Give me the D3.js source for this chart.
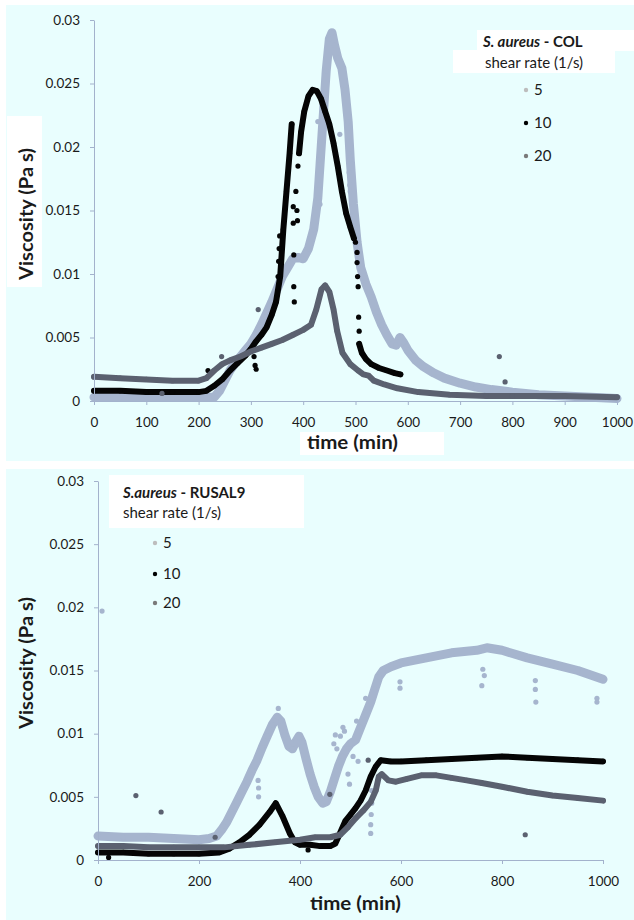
<!DOCTYPE html>
<html>
<head>
<meta charset="utf-8">
<title>S. aureus viscosity</title>
<script src="https://cdn.jsdelivr.net/npm/d3@7"></script>
<style>
    body { margin: 0; background: #fff; }
    svg text { font-family: Lato, 'Noto Sans', sans-serif; fill: #1a1a1a; }
    .axis path, .axis line { stroke: #a3b2cc; }
    .axis text { font-size: 13.5px; }
    .title { font-weight: 700; font-size: 18px; }
    .legend { font-size: 15px; }
</style>
</head>
<body>
<div id="chart"></div>
<script>
// ---- data (time in min, viscosity in Pa s) ----
var timeTicksTop = [0, 100, 200, 300, 400, 500, 600, 700, 800, 900, 1000];
var timeTicksBottom = [0, 200, 400, 600, 800, 1000];
var viscTicks = [0, 0.005, 0.01, 0.015, 0.02, 0.025, 0.03];
var viscTickLabels = ['0', '0.005', '0.01', '0.015', '0.02', '0.025', '0.03'];
var shearRates = ['5', '10', '20'];

// S. aureus - COL
var col5 = [[0,0.0003],[50,0.0003],[100,0.0003],[150,0.0003],[200,0.0003],[230,0.0003],[240,0.0008],[250,0.0016],
    [260,0.0024],[270,0.003],[280,0.0035],[290,0.004],[300,0.0045],[310,0.0052],[320,0.006],[330,0.0069],[340,0.0078],
    [350,0.0088],[360,0.0098],[370,0.0105],[380,0.0112],[390,0.0113],[400,0.0112],[410,0.012],[420,0.0135],[428,0.016],
    [436,0.021],[444,0.026],[450,0.0285],[455,0.029],[460,0.028],[466,0.027],[474,0.0262],[480,0.0245],[486,0.022],
    [490,0.019],[496,0.0155],[503,0.0125],[510,0.0105],[520,0.0092],[530,0.0082],[540,0.007],[550,0.006],[560,0.0052],
    [570,0.0045],[578,0.0044],[585,0.005],[592,0.0046],[600,0.004],[615,0.0032],[630,0.0027],[650,0.0022],[670,0.0018],
    [700,0.0014],[730,0.0011],[760,0.0009],[800,0.0007],[850,0.0005],[900,0.0004],[950,0.0003],[1000,0.0002]];
var col10 = [[0,0.0008],[50,0.0008],[100,0.0007],[150,0.0007],[200,0.0007],[215,0.0008],[230,0.0012],[245,0.0017],
    [260,0.0024],[275,0.003],[290,0.0036],[300,0.0041],[310,0.0047],[320,0.0052],[330,0.0058],[340,0.0068],[348,0.0078],
    [356,0.0098],[362,0.0135],[368,0.0165],[374,0.0195],[378,0.0218], null,
    [392,0.0195],[396,0.0212],[402,0.0228],[410,0.024],[418,0.0245],[426,0.0244],[434,0.0238],[442,0.0228],[450,0.0218],
    [458,0.0203],[466,0.0185],[474,0.0165],[482,0.0148],[490,0.0137],[497,0.0128], null,
    [507,0.0045],[512,0.0038],[520,0.0033],[530,0.0029],[545,0.0026],[560,0.0024],[575,0.0022],[586,0.0021]];
var col20 = [[0,0.0019],[50,0.0018],[100,0.0017],[150,0.0016],[200,0.0016],[215,0.0018],[230,0.0024],[245,0.0029],
    [260,0.0032],[280,0.0035],[300,0.0039],[320,0.0042],[340,0.0045],[360,0.0048],[380,0.0052],[400,0.0056],[415,0.006],
    [425,0.0072],[435,0.0088],[442,0.0091],[450,0.0086],[458,0.0072],[465,0.0055],[475,0.0038],[490,0.0029],[505,0.0024],
    [515,0.0021],[525,0.002],[535,0.0016],[555,0.0013],[580,0.001],[620,0.0007],[680,0.0005],[750,0.0004],[800,0.0004],
    [900,0.0004],[1000,0.0003]];
var col5Scatter = [[428,0.022],[430,0.019],[431,0.017],[432,0.0155],[434,0.024],[470,0.021],[486,0.0215],[487,0.0195],
    [488,0.018],[489,0.017],[490,0.0165]];
var col10Scatter = [[218,0.0024],[306,0.0035],[308,0.0028],[310,0.0025],[352,0.0098],[353,0.011],[354,0.012],[355,0.013],
    [381,0.0153],[381,0.014],[382,0.0115],[382,0.009],[383,0.0078],[386,0.0165],[388,0.015],[389,0.0142],[390,0.0185],
    [500,0.0125],[503,0.0117],[503,0.0109],[504,0.0098],[505,0.009],[506,0.0066],[507,0.0055]];
var col20Scatter = [[130,0.0006],[244,0.0035],[314,0.0072],[775,0.0035],[786,0.0015]];

// S. aureus - RUSAL9
var rusal5 = [[0,0.0019],[50,0.0018],[100,0.0018],[150,0.0017],[200,0.0016],[220,0.0017],[235,0.0019],[245,0.0024],
    [255,0.003],[265,0.0038],[275,0.0046],[285,0.0054],[295,0.0062],[305,0.0071],[315,0.0079],[325,0.0089],[335,0.0098],
    [345,0.0107],[355,0.0113],[362,0.011],[370,0.0099],[378,0.009],[385,0.0088],[392,0.0094],[398,0.0098],[404,0.0093],
    [412,0.008],[420,0.0068],[428,0.0058],[436,0.005],[445,0.0045],[452,0.0046],[460,0.0054],[468,0.0064],[476,0.0074],
    [484,0.0082],[492,0.0088],[500,0.0092],[510,0.0095],[520,0.0105],[530,0.0115],[540,0.0125],[548,0.0135],[556,0.0145],
    [565,0.015],[580,0.0153],[600,0.0156],[650,0.016],[700,0.0164],[750,0.0166],[770,0.0168],[800,0.0166],[850,0.016],
    [900,0.0155],[950,0.015],[1000,0.0143]];
var rusal10 = [[0,0.0006],[50,0.0006],[100,0.0005],[150,0.0005],[200,0.0005],[240,0.0006],[260,0.0009],[280,0.0014],
    [300,0.002],[320,0.0028],[340,0.0038],[352,0.0045],[365,0.0035],[380,0.0021],[390,0.0014],[400,0.0012],[420,0.0012],
    [440,0.0011],[460,0.0011],[470,0.0013],[480,0.0022],[490,0.0031],[500,0.0036],[510,0.0041],[520,0.0047],[530,0.0055],
    [540,0.0066],[550,0.0074],[560,0.0079],[580,0.0078],[600,0.0078],[650,0.0079],[700,0.008],[750,0.0081],[800,0.0082],
    [850,0.0081],[900,0.008],[950,0.0079],[1000,0.0078]];
var rusal20 = [[0,0.0011],[50,0.0011],[100,0.001],[150,0.001],[200,0.001],[250,0.001],[300,0.0012],[350,0.0014],
    [400,0.0016],[430,0.0018],[460,0.0018],[480,0.002],[495,0.0026],[510,0.0033],[525,0.0039],[540,0.0046],[550,0.0055],
    [556,0.0066],[562,0.0068],[575,0.0063],[590,0.0062],[610,0.0064],[640,0.0067],[670,0.0067],[700,0.0065],[730,0.0063],
    [760,0.0061],[800,0.0058],[850,0.0054],[900,0.0051],[950,0.0049],[1000,0.0047]];
var rusal5Scatter = [[8,0.0197],[317,0.0063],[318,0.0057],[318,0.005],[357,0.012],[467,0.0092],[470,0.0099],[473,0.0088],
    [480,0.0098],[485,0.0105],[488,0.0102],[495,0.0068],[498,0.006],[505,0.0082],[512,0.011],[515,0.0078],[530,0.0128],
    [535,0.012],[540,0.0021],[540,0.0028],[541,0.0036],[542,0.0045],[542,0.0055],[598,0.0141],[598,0.0136],[762,0.0151],
    [765,0.0146],[760,0.0138],[866,0.0142],[866,0.0135],[867,0.0125],[988,0.0128],[988,0.0125]];
var rusal10Scatter = [[21,0.0002],[416,0.0008]];
var rusal20Scatter = [[75,0.0051],[125,0.0038],[232,0.0018],[459,0.0052],[535,0.0079],[846,0.002]];

var COLORS = ['#a6b5ce', '#050505', '#5b6170'];
var LEGEND_COLORS = ['#bdbdbd', '#000', '#7a7a7a'];
var BAND = [9, 6, 6]; // width of the dense dot bands

var svg = d3.select('#chart').append('svg').attr('width', 634).attr('height', 920);

function drawPanel(p) {
    svg.append('rect').attr('x', p.box[0]).attr('y', p.box[1]).attr('width', p.box[2]).attr('height', p.box[3])
        .attr('fill', '#e9fefe');

    var x = d3.scaleLinear().domain([0, 1000]).range(p.xRange);
    var y = d3.scaleLinear().domain([0, 0.03]).range(p.yRange);

    var g = svg.append('g');

    svg.append('g').attr('class', 'axis').attr('transform', 'translate(0,' + p.yRange[0] + ')')
        .call(d3.axisBottom(x).tickValues(p.xTicks).tickFormat(d3.format('d')).tickSize(4).tickSizeOuter(0).tickPadding(12))
        .call(function(a) { a.selectAll('text').attr('font-size', '13.5px'); });
    svg.append('g').attr('class', 'axis').attr('transform', 'translate(' + p.xRange[0] + ',0)')
        .call(d3.axisLeft(y).tickValues(viscTicks).tickFormat(function(d, i) { return viscTickLabels[i]; })
            .tickSize(4).tickSizeOuter(0).tickPadding(10));

    var line = d3.line().defined(function(d) { return d !== null; })
        .x(function(d) { return x(d[0]); }).y(function(d) { return y(d[1]); });

    p.series.forEach(function(s, i) {
        g.append('path').datum(s)
            .attr('d', line).attr('fill', 'none').attr('stroke', COLORS[i])
            .attr('stroke-width', BAND[i]).attr('stroke-linejoin', 'round').attr('stroke-linecap', 'round');
        g.selectAll(null).data(s.filter(function(d) { return d !== null; }).concat(p.scatter[i]))
            .enter().append('circle')
            .attr('cx', function(d) { return x(d[0]); })
            .attr('cy', function(d) { return y(d[1]); })
            .attr('r', 2.6).attr('fill', COLORS[i]);
    });

    // axis titles
    if (p.yTitleBox) {
        svg.append('rect').attr('x', p.yTitleBox[0]).attr('y', p.yTitleBox[1])
            .attr('width', p.yTitleBox[2]).attr('height', p.yTitleBox[3]).attr('fill', '#fff');
    }
    svg.append('text').attr('class', 'title').attr('text-anchor', 'middle')
        .attr('transform', 'translate(' + p.yTitle[0] + ',' + p.yTitle[1] + ') rotate(-90)')
        .attr('textLength', 132).attr('lengthAdjust', 'spacingAndGlyphs')
        .text('Viscosity (Pa s)');
    if (p.xTitleBox) {
        svg.append('rect').attr('x', p.xTitleBox[0]).attr('y', p.xTitleBox[1])
            .attr('width', p.xTitleBox[2]).attr('height', p.xTitleBox[3]).attr('fill', '#fff');
    }
    svg.append('text').attr('class', 'title').attr('x', p.xTitle[0]).attr('y', p.xTitle[1])
        .attr('textLength', 91).attr('lengthAdjust', 'spacingAndGlyphs')
        .text('time (min)');

    // legend
    p.legendBoxes.forEach(function(b) {
        svg.append('rect').attr('x', b[0]).attr('y', b[1]).attr('width', b[2]).attr('height', b[3]).attr('fill', '#fff');
    });
    var t = svg.append('text').attr('class', 'legend').attr('x', p.legendTitle[0]).attr('y', p.legendTitle[1])
        .style('font-weight', 700);
    t.append('tspan').style('font-style', 'italic').text(p.organism);
    t.append('tspan').text(' - ' + p.strain);
    svg.append('text').attr('class', 'legend').attr('x', p.legendSub[0]).attr('y', p.legendSub[1]).text('shear rate (1/s)');
    shearRates.forEach(function(r, i) {
        svg.append('circle').attr('cx', p.legendX).attr('cy', p.legendY[i]).attr('r', 2.2).attr('fill', LEGEND_COLORS[i]);
        svg.append('text').attr('class', 'legend').attr('x', p.legendX + 8).attr('y', p.legendY[i])
            .attr('dy', '0.35em').text(r);
    });
}

drawPanel({
    box: [6, 5, 628, 456], xRange: [94, 617], yRange: [401, 20], xTicks: timeTicksTop,
    series: [col5, col10, col20], scatter: [col5Scatter, col10Scatter, col20Scatter],
    yTitle: [33, 214], yTitleBox: [7, 116, 35, 171],
    xTitle: [307, 449], xTitleBox: [300, 432, 144, 23],
    legendBoxes: [[477, 30, 157, 21], [453, 50, 162, 23]],
    organism: 'S. aureus', strain: 'COL', legendTitle: [483, 47], legendSub: [485, 68],
    legendX: 526, legendY: [90, 123, 156]
});

drawPanel({
    box: [6, 469, 628, 451], xRange: [98, 603], yRange: [860, 481], xTicks: timeTicksBottom,
    series: [rusal5, rusal10, rusal20], scatter: [rusal5Scatter, rusal10Scatter, rusal20Scatter],
    yTitle: [33, 663], yTitleBox: null,
    xTitle: [310, 910], xTitleBox: null,
    legendBoxes: [[109, 475, 195, 53]],
    organism: 'S.aureus', strain: 'RUSAL9', legendTitle: [123, 498], legendSub: [123, 518],
    legendX: 155, legendY: [543, 574, 603]
});
</script>
</body>
</html>
